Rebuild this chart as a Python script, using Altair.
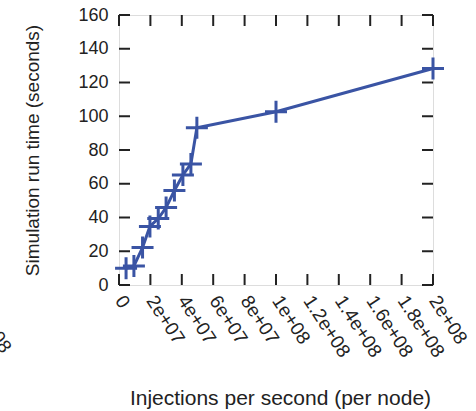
import altair as alt
import pandas as pd

# Data
injections = [4.5e6, 9.5e6, 15e6, 19.7e6, 25e6, 30e6, 35.3e6, 40.7e6, 45.8e6, 49.6e6, 100e6, 200e6]
runtime = [9.9, 11.3, 22.2, 34.7, 39.4, 45.9, 56.0, 65.2, 71.7, 93.2, 102.7, 128.3]

x_ticks = [0, 2e7, 4e7, 6e7, 8e7, 1e8, 1.2e8, 1.4e8, 1.6e8, 1.8e8, 2e8]
x_tick_labels = ["0", "2e+07", "4e+07", "6e+07", "8e+07", "1e+08", "1.2e+08", "1.4e+08", "1.6e+08", "1.8e+08", "2e+08"]
y_ticks = [0, 20, 40, 60, 80, 100, 120, 140, 160]

W, H = 314, 270
FONT = "Liberation Sans"
COLOR = "#3a54a4"
TICK = 11

df = pd.DataFrame({"x": injections, "y": runtime})
xt = pd.DataFrame({"v": x_ticks})
yt = pd.DataFrame({"v": y_ticks})

expr_parts = " : ".join(f"datum.value == {v:.0f} ? '{l}'" for v, l in zip(x_ticks, x_tick_labels)) + " : ''"

xscale = alt.Scale(domain=[0, 2e8], nice=False, zero=False)
yscale = alt.Scale(domain=[0, 160], nice=False)

xaxis = alt.Axis(
    values=x_ticks, labelExpr=expr_parts, ticks=False, domain=False, grid=False,
    labelAngle=57, labelAlign="left", labelBaseline="middle", labelPadding=12,
    labelFont=FONT, labelFontSize=19, labelColor="#222", labelOverlap=False, labelBound=False,
    title="Injections per second (per node)", titleFont=FONT, titleFontSize=21,
    titleFontWeight="normal", titleColor="#222", titleX=161, titleY=113,
    titleAlign="center", titleBaseline="middle", titleAnchor="start",
)
yaxis = alt.Axis(
    values=y_ticks, ticks=False, domain=False, grid=False, labelPadding=11,
    labelFont=FONT, labelFontSize=18, labelColor="#222", labelOverlap=False, labelBound=False,
    title="Simulation run time (seconds)", titleFont=FONT, titleFontSize=19,
    titleFontWeight="normal", titleColor="#222", titleX=-87, titleY=135,
    titleAlign="center", titleBaseline="middle", titleAngle=-90, titleAnchor="start",
)

line = alt.Chart(df).mark_line(color=COLOR, strokeWidth=3).encode(
    x=alt.X("x:Q", scale=xscale, axis=xaxis),
    y=alt.Y("y:Q", scale=yscale, axis=yaxis),
)
pts = alt.Chart(df).mark_point(
    shape="M-1,0L1,0M0,-1L0,1", filled=False, stroke=COLOR, strokeWidth=3, size=484, opacity=1
).encode(x=alt.X("x:Q", scale=xscale, axis=xaxis), y=alt.Y("y:Q", scale=yscale, axis=yaxis))

rule_style = dict(color="#222", strokeWidth=2)
yl = alt.Chart(yt).mark_rule(**rule_style).encode(
    y=alt.Y("v:Q", scale=yscale, axis=yaxis), x=alt.value(0), x2=alt.value(TICK))
yr = alt.Chart(yt).mark_rule(**rule_style).encode(
    y=alt.Y("v:Q", scale=yscale, axis=yaxis), x=alt.value(W - TICK), x2=alt.value(W))
xb = alt.Chart(xt).mark_rule(**rule_style).encode(
    x=alt.X("v:Q", scale=xscale, axis=xaxis), y=alt.value(H), y2=alt.value(H - TICK))
xtp = alt.Chart(xt).mark_rule(**rule_style).encode(
    x=alt.X("v:Q", scale=xscale, axis=xaxis), y=alt.value(0), y2=alt.value(TICK))

frag = alt.Chart(pd.DataFrame({"t": ["1.8e+08"]})).mark_text(
    font=FONT, fontSize=19, angle=57, align="left", baseline="middle", color="#222"
).encode(text="t:N", x=alt.value(-150), y=alt.value(278))

chart = alt.layer(line, pts, yl, yr, xb, xtp, frag).properties(
    width=W, height=H,
    autosize=alt.AutoSizeParams(type="none"),
    padding={"left": 119, "top": 15, "right": 43, "bottom": 126},
).configure_view(stroke="#222", strokeWidth=2).configure_axis(
    labelOverlap=False
).configure(background="white")

chart.save("out.html", embed_options={"renderer": "svg", "actions": False})
